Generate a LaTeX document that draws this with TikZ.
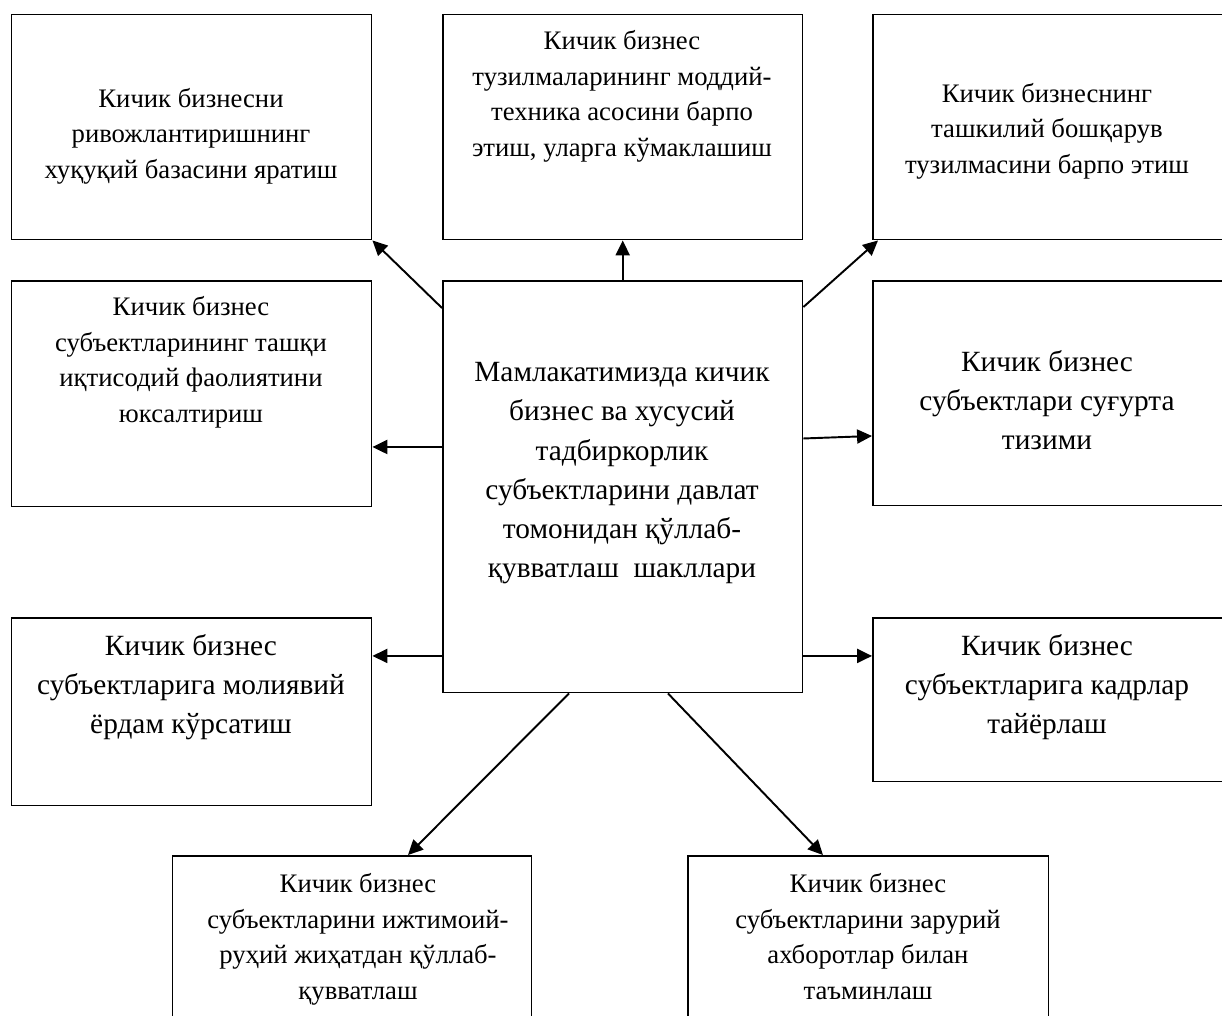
\documentclass[tikz,border=0pt]{standalone}
\usepackage{fontspec}
\setmainfont{Liberation Serif}
\usetikzlibrary{arrows.meta}

\tikzset{
  box/.style={draw, line width=0.85pt, anchor=north west, inner sep=0pt},
  smalltxt/.style={align=center, anchor=base, inner sep=0pt,
    font=\fontsize{15.2}{20.2}\selectfont},
  bigtxt/.style={align=center, anchor=base, inner sep=0pt,
    font=\fontsize{16.7}{22.2}\selectfont},
  arr/.style={line width=1.1pt, -{Triangle[length=8.5pt,width=8pt]}}
}

\begin{document}
\begin{tikzpicture}[x=0.02cm,y=-0.02cm]
\useasboundingbox (0,0) rectangle (1222,1015);

% boxes
\node[box, minimum width=7.2cm, minimum height=4.5cm] (tl) at (11,14) {};
\node[box, minimum width=7.2cm, minimum height=4.5cm] (tm) at (442,14) {};
\node[box, minimum width=7.02cm, minimum height=4.5cm] (tr) at (872,14) {};
\node[box, minimum width=7.2cm, minimum height=4.52cm] (ml) at (11,280) {};
\node[box, minimum width=7.2cm, minimum height=3.76cm] (bl) at (11,617) {};
\node[box, minimum width=7.2cm, minimum height=8.24cm] (ctr) at (442,280) {};
\node[box, minimum width=7.02cm, minimum height=4.5cm] (mr) at (872,280) {};
\node[box, minimum width=7.02cm, minimum height=3.28cm] (br) at (872,617) {};
\node[box, minimum width=7.18cm, minimum height=5cm] (bot1) at (172,855) {};
\node[box, minimum width=7.22cm, minimum height=5cm] (bot2) at (687,855) {};

% texts (placed at the baseline of the last line)
\node[smalltxt] (tltxt) at (191,178) {Кичик бизнесни\\ривожлантиришнинг\\хуқуқий базасини яратиш};
\node[smalltxt] (tmtxt) at (622,156) {Кичик бизнес\\тузилмаларининг моддий-\\техника асосини барпо\\этиш, уларга кўмаклашиш};
\node[smalltxt] (trtxt) at (1047,173) {Кичик бизнеснинг\\ташкилий бошқарув\\тузилмасини барпо этиш};
\node[smalltxt] (mltxt) at (191,422) {Кичик бизнес\\субъектларининг ташқи\\иқтисодий фаолиятини\\юксалтириш};
\node[bigtxt] (bltxt) at (191,733) {Кичик бизнес\\субъектларига молиявий\\ёрдам кўрсатиш};
\node[bigtxt] (ctrtxt) at (622,577) {Мамлакатимизда кичик\\бизнес ва хусусий\\тадбиркорлик\\субъектларини давлат\\томонидан қўллаб-\\қувватлаш~ шакллари};
\node[bigtxt] (mrtxt) at (1047,449) {Кичик бизнес\\субъектлари суғурта\\тизими};
\node[bigtxt] (brtxt) at (1047,733) {Кичик бизнес\\субъектларига кадрлар\\тайёрлаш};
\node[smalltxt] (b1txt) at (358,999) {Кичик бизнес\\субъектларини ижтимоий-\\руҳий жиҳатдан қўллаб-\\қувватлаш};
\node[smalltxt] (b2txt) at (868,999) {Кичик бизнес\\субъектларини зарурий\\ахборотлар билан\\таъминлаш};

% arrows
\coordinate (cl1) at ([yshift=-3.34cm]ctr.north west);
\coordinate (cl2) at ([yshift=-7.52cm]ctr.north west);
\coordinate (cr1) at ([yshift=-3.17cm]ctr.north east);
\coordinate (cr2) at ([yshift=-7.52cm]ctr.north east);
\draw[arr] ([yshift=-0.56cm]ctr.north west) -- (tl.south east);
\draw[arr] (ctr.north) -- (tm.south);
\draw[arr] ([yshift=-0.54cm]ctr.north east) -- ([xshift=0.12cm]tr.south west);
\draw[arr] (cl1) -- (cl1 -| ml.east);
\draw[arr] (cl2) -- (cl2 -| bl.east);
\draw[arr] (cr1) -- ([yshift=-3.12cm]mr.north west);
\draw[arr] (cr2) -- (cr2 -| br.west);
\draw[arr] ([xshift=2.54cm]ctr.south west) -- ([xshift=4.72cm]bot1.north west);
\draw[arr] ([xshift=4.52cm]ctr.south west) -- ([xshift=2.72cm]bot2.north west);
\end{tikzpicture}
\end{document}
